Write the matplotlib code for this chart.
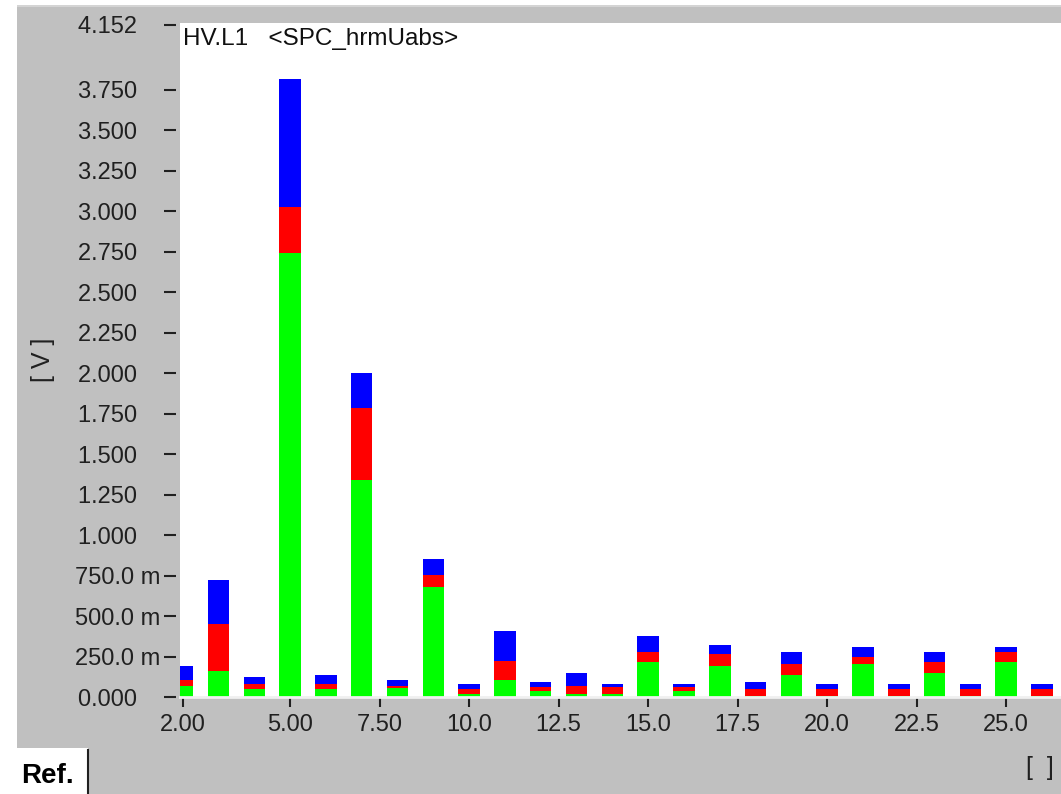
import matplotlib
matplotlib.use("Agg")
from matplotlib import pyplot as plt
from matplotlib.patches import Rectangle
from matplotlib.lines import Line2D
import numpy as np

# Harmonische Ordnung und Spannungsanteile (V) je Phase
ordnung = [2, 3, 4, 5, 6, 7, 8, 9, 10, 11, 12, 13, 14,
           15, 16, 17, 18, 19, 20, 21, 22, 23, 24, 25, 26]
gruen = [0.066, 0.162, 0.049, 2.745, 0.049, 1.339, 0.054, 0.680, 0.020, 0.107, 0.035, 0.020, 0.020,
         0.218, 0.035, 0.191, 0.008, 0.134, 0.008, 0.205, 0.008, 0.148, 0.008, 0.218, 0.008]
rot = [0.041, 0.286, 0.029, 0.284, 0.029, 0.444, 0.012, 0.071, 0.029, 0.113, 0.029, 0.046, 0.044,
       0.060, 0.029, 0.072, 0.041, 0.071, 0.041, 0.044, 0.041, 0.070, 0.041, 0.060, 0.041]
blau = [0.086, 0.276, 0.045, 0.790, 0.058, 0.216, 0.041, 0.100, 0.029, 0.189, 0.029, 0.084, 0.014,
        0.100, 0.014, 0.058, 0.044, 0.073, 0.029, 0.057, 0.029, 0.060, 0.029, 0.028, 0.029]

ytick_werte = [0.0, 0.25, 0.5, 0.75, 1.0, 1.25, 1.5, 1.75, 2.0, 2.25, 2.5, 2.75,
               3.0, 3.25, 3.5, 3.75, 4.152]
ytick_text = ["0.000", "250.0 m", "500.0 m", "750.0 m", "1.000", "1.250", "1.500", "1.750",
              "2.000", "2.250", "2.500", "2.750", "3.000", "3.250", "3.500", "3.750", "4.152"]
xtick_werte = [2.0, 5.0, 7.5, 10.0, 12.5, 15.0, 17.5, 20.0, 22.5, 25.0]
xtick_text = ["2.00", "5.00", "7.50", "10.0", "12.5", "15.0", "17.5", "20.0", "22.5", "25.0"]

plt.rcParams['font.family'] = ['Liberation Sans', 'DejaVu Sans']

W, H = 1061, 794
fig = plt.figure(figsize=(W / 100, H / 100), dpi=100)
fig.patch.set_facecolor('white')

# grauer Hintergrund des Fensters
fig.patches.append(Rectangle((17 / W, 0), 1 - 17 / W, (H - 5) / H, transform=fig.transFigure,
                             facecolor='#c0c0c0', edgecolor='none', zorder=-10))
fig.patches.append(Rectangle((17 / W, (H - 7) / H), 1 - 17 / W, 2 / H, transform=fig.transFigure,
                             facecolor='#d4d4d4', edgecolor='none', zorder=-9))
# Reiter "Ref."
fig.patches.append(Rectangle((0, 0), 88 / W, (H - 748) / H, transform=fig.transFigure,
                             facecolor='white', edgecolor='none', zorder=-8))
fig.lines.append(Line2D([88 / W, 88 / W], [0, (H - 750) / H], transform=fig.transFigure,
                        color='#202020', lw=1.5, zorder=-7))
fig.text(47 / W, 1 - 776 / H, "Ref.", fontsize=20, fontweight='bold', ha='center', va='center')

ax = fig.add_axes([180 / W, (H - 697) / H, (W - 180) / W, (697 - 23) / H])
ax.set_facecolor('white')

x = np.array(ordnung)
g = np.array(gruen)
r = np.array(rot)
b = np.array(blau)
breite = 0.6
ax.bar(x, g, width=breite, color='#00ff00', edgecolor='none')
ax.bar(x, r, width=breite, bottom=g, color='#ff0000', edgecolor='none')
ax.bar(x, b, width=breite, bottom=g + r, color='#0000ff', edgecolor='none')

ax.set_xlim(1.925, 26.53)
ax.set_ylim(0, 4.163)

for s in ['top', 'right', 'left']:
    ax.spines[s].set_visible(False)
ax.spines['bottom'].set_color('#f0f0f0')
ax.spines['bottom'].set_linewidth(2)
ax.spines['left'].set_position(('outward', 3))

# Zahlen ohne "m" bekommen einen Platzhalter, damit die Ziffern buendig stehen
ylabels = [t if t.endswith(" m") else t + "\u2003" for t in ytick_text]
ax.set_yticks(ytick_werte)
ax.set_yticklabels(ylabels)
ax.set_xticks(xtick_werte)
ax.set_xticklabels(xtick_text)
ax.tick_params(axis='y', direction='out', length=8.6, width=1.5, pad=2.5, labelsize=17,
               color='#202020', labelcolor='#202020')
ax.tick_params(axis='x', direction='out', length=7, width=1.5, pad=5, labelsize=17,
               color='#202020', labelcolor='#202020')

ax.text(0.003, 0.992, "HV.L1   <SPC_hrmUabs>", transform=ax.transAxes,
        fontsize=17.5, ha='left', va='top', color='#101010')

fig.text(43 / W, 1 - 360 / H, "[ V ]", rotation=90, fontsize=18, ha='center', va='center',
         color='#202020')
fig.text(1040 / W, 1 - 768 / H, "[  ]", fontsize=18, ha='center', va='center', color='#202020')

fig.savefig("out.png", dpi=100, facecolor=fig.get_facecolor())
